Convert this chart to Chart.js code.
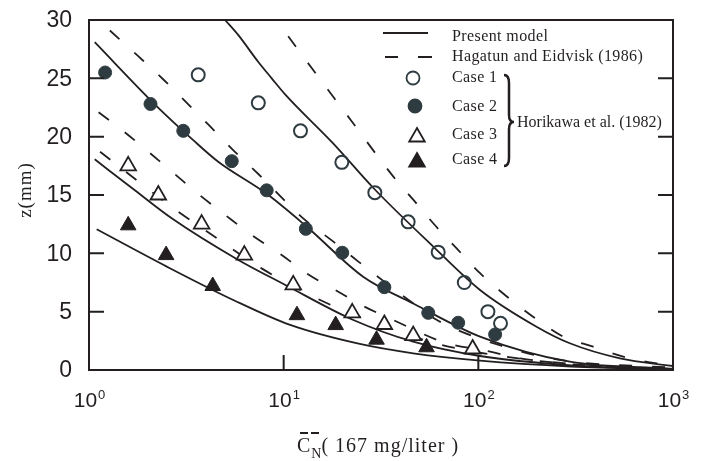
<!DOCTYPE html>
<html>
<head>
<meta charset="utf-8">
<script src="https://cdn.jsdelivr.net/npm/chart.js@4.4.1/dist/chart.umd.min.js"></script>
<style>
  body { margin: 0; background: #fff; }
  canvas { display: block; }
</style>
</head>
<body>
<canvas id="chart" width="707" height="461"></canvas>
<script>
// axis ticks
const xTicks = [1, 10, 100, 1000];
const yTicks = [0, 5, 10, 15, 20, 25, 30];

// Horikawa et al. (1982) measurements
const case1X = [3.64, 7.41, 12.2, 19.9, 29.4, 43.6, 62.2, 84.7, 112, 130];
const case1Z = [25.3, 22.9, 20.5, 17.8, 15.2, 12.7, 10.1, 7.5, 5.0, 4.0];
const case2X = [1.21, 2.07, 3.05, 5.41, 8.18, 13.0, 20.0, 32.9, 55.3, 78.8, 122];
const case2Z = [25.5, 22.8, 20.5, 17.9, 15.4, 12.1, 10.05, 7.1, 4.9, 4.05, 3.05];
const case3X = [1.59, 2.27, 3.79, 6.28, 11.2, 22.5, 32.9, 46.3, 93.5];
const case3Z = [17.5, 15.0, 12.5, 9.85, 7.3, 4.9, 3.9, 2.95, 1.8];
const case4X = [1.59, 2.49, 4.32, 11.7, 18.5, 30.0, 54.2];
const case4Z = [12.4, 9.85, 7.2, 4.7, 3.85, 2.6, 1.95];

// present model
const model1X = [5.0, 5.85, 7.41, 8.68, 10.2, 18.0, 28.9, 58.5, 102, 199, 295, 534, 1000];
const model1Z = [30, 28.7, 26.4, 25.0, 23.6, 19.4, 15.6, 10.6, 6.86, 3.71, 2.29, 1.0, 0.34];
const model2X = [1.07, 2.23, 3.43, 4.61, 8.18, 13.1, 25.6, 46.3, 102, 295, 1000];
const model2Z = [28.1, 22.6, 19.7, 17.85, 15.1, 12.3, 8.0, 5.7, 2.86, 0.71, 0.1];
const model3X = [1.07, 1.72, 2.66, 5.85, 10.2, 22.8, 46.3, 102, 300, 1000];
const model3Z = [18.06, 15.4, 13.0, 9.43, 7.29, 4.29, 2.43, 1.2, 0.4, 0.05];
const model4X = [1.095, 2.51, 5.51, 10.8, 24.6, 46.3, 102, 300, 1000];
const model4Z = [12.06, 8.86, 6.0, 3.86, 2.23, 1.43, 0.8, 0.3, 0.05];

// Hagatun and Eidvisk (1986)
const hag1X = [10.55, 13.9, 22.4, 36.5, 46.3, 58.5, 77.6, 102, 140, 191, 273, 389, 555, 827, 1000];
const hag1Z = [28.6, 25.9, 21.3, 16.6, 14.6, 12.6, 10.4, 8.3, 6.3, 4.57, 2.86, 2.0, 1.14, 0.57, 0.4];
const hag2X = [1.28, 1.79, 2.41, 3.18, 4.18, 5.62, 7.41, 12.6, 18.0, 24.2, 44.7, 61, 130, 262, 1000];
const hag2Z = [29.1, 26.9, 24.9, 22.9, 20.9, 18.7, 16.8, 13.0, 11.0, 9.29, 5.9, 4.3, 2.1, 0.86, 0.2];
const hag3X = [1.12, 1.47, 2.02, 2.71, 3.7, 5.0, 6.85, 9.77, 13.1, 18.4, 26.0, 36.5, 66, 115, 164, 400, 1000];
const hag3Z = [22.1, 20.6, 18.7, 16.9, 15.0, 13.3, 11.57, 9.86, 8.29, 6.86, 5.43, 4.29, 2.4, 1.57, 1.0, 0.4, 0.15];
const hag4X = [1.14, 2.87, 3.94, 7.7, 15.4, 30, 60, 100, 300, 1000];
const hag4Z = [18.7, 13.57, 12.0, 8.71, 6.0, 4.0, 2.3, 1.5, 0.5, 0.1];

const INK = '#231f20';
const DOT = '#2e3b40';
const SERIF = '"Liberation Serif", "Times New Roman", serif';
const SANS = '"Liberation Sans", Arial, sans-serif';

const pts = (xs, zs) => xs.map((v, i) => ({ x: v, y: zs[i] }));

function curve(xs, zs, dashed) {
  return {
    data: pts(xs, zs), showLine: true, pointRadius: 0,
    borderColor: INK, borderWidth: 1.8, borderDash: dashed ? [13, 20] : [],
    cubicInterpolationMode: 'monotone', order: 2
  };
}

// marker styles shared by plot and legend
const marks = {
  c1: { pointStyle: 'circle', radius: 6.5, fill: 'rgba(0,0,0,0)', stroke: DOT, bw: 2 },
  c2: { pointStyle: 'circle', radius: 6.5, fill: DOT, stroke: DOT, bw: 1 },
  c3: { pointStyle: 'triangle', radius: 9, fill: '#fff', stroke: INK, bw: 1.8 },
  c4: { pointStyle: 'triangle', radius: 9, fill: INK, stroke: INK, bw: 1 }
};

function scatter(xs, zs, m) {
  return {
    data: pts(xs, zs), showLine: false, order: 1,
    pointStyle: m.pointStyle, pointRadius: m.radius,
    pointBackgroundColor: m.fill, pointBorderColor: m.stroke, pointBorderWidth: m.bw
  };
}

const frame = {
  id: 'frame',
  afterDraw(chart) {
    const { ctx, chartArea: a, scales: { x, y } } = chart;
    ctx.save();
    ctx.strokeStyle = INK;
    ctx.lineWidth = 2;
    ctx.strokeRect(a.left, a.top, a.right - a.left, a.bottom - a.top);

    // inward tick marks
    ctx.beginPath();
    yTicks.slice(1, -1).forEach(v => {
      const py = y.getPixelForValue(v);
      ctx.moveTo(a.left, py); ctx.lineTo(a.left + 15, py);
      ctx.moveTo(a.right, py); ctx.lineTo(a.right - 15, py);
    });
    xTicks.slice(1, -1).forEach(v => {
      const px = x.getPixelForValue(v);
      ctx.moveTo(px, a.bottom); ctx.lineTo(px, a.bottom - 15);
    });
    ctx.stroke();

    // tick labels
    ctx.fillStyle = INK;
    ctx.font = '23px ' + SANS;
    ctx.textAlign = 'right';
    ctx.textBaseline = 'middle';
    yTicks.forEach(v => ctx.fillText(String(v), a.left - 17, y.getPixelForValue(v) + 1));

    ctx.textAlign = 'left';
    ctx.textBaseline = 'alphabetic';
    xTicks.forEach(v => {
      const px = x.getPixelForValue(v);
      const e = String(Math.round(Math.log10(v)));
      ctx.font = '21px ' + SANS;
      const wb = ctx.measureText('10').width;
      ctx.font = '13px ' + SANS;
      const we = ctx.measureText(e).width;
      const x0 = px - (wb + we) / 2;
      ctx.font = '21px ' + SANS;
      ctx.fillText('10', x0, 407);
      ctx.font = '13px ' + SANS;
      ctx.fillText(e, x0 + wb + 1, 399);
    });

    // axis titles
    ctx.font = '20px ' + SERIF;
    ctx.letterSpacing = '1px';
    ctx.fillText('C', 297, 452);
    const wc = ctx.measureText('C').width;
    ctx.font = '14px ' + SERIF;
    ctx.letterSpacing = '0px';
    ctx.fillText('N', 297 + wc, 458);
    const wn = ctx.measureText('N').width;
    ctx.font = '20px ' + SERIF;
    ctx.letterSpacing = '1px';
    ctx.fillText('( 167 mg/liter )', 297 + wc + wn, 452);
    ctx.lineWidth = 2;
    ctx.beginPath();
    ctx.moveTo(300, 433); ctx.lineTo(308, 433);
    ctx.moveTo(311, 433); ctx.lineTo(319, 433);
    ctx.stroke();

    ctx.save();
    ctx.translate(31, 190);
    ctx.rotate(-Math.PI / 2);
    ctx.textAlign = 'center';
    ctx.font = '19px ' + SERIF;
    ctx.fillText('z(mm)', 0, 0);
    ctx.restore();

    // legend
    ctx.letterSpacing = '0.4px';
    ctx.font = '16px ' + SERIF;
    ctx.textAlign = 'left';
    ctx.beginPath();
    ctx.lineWidth = 1.8;
    ctx.moveTo(383, 33); ctx.lineTo(428, 33);
    ctx.moveTo(385, 57); ctx.lineTo(398, 57);
    ctx.moveTo(418, 57); ctx.lineTo(432, 57);
    ctx.stroke();
    ctx.fillText('Present model', 452, 41);
    ctx.fillText('Hagatun and Eidvisk (1986)', 452, 61);

    const rows = [['c1', 413, 78, 'Case 1', 82], ['c2', 415, 106, 'Case 2', 111],
                  ['c3', 417, 137, 'Case 3', 139], ['c4', 417, 162, 'Case 4', 164]];
    rows.forEach(([k, mx, my, label, by]) => {
      const m = marks[k];
      ctx.fillStyle = m.fill;
      ctx.strokeStyle = m.stroke;
      Chart.helpers.drawPoint(ctx, { pointStyle: m.pointStyle, radius: m.radius, rotation: 0, borderWidth: m.bw }, mx, my);
      ctx.fillStyle = INK;
      ctx.fillText(label, 452, by);
    });

    // brace grouping the four cases
    ctx.strokeStyle = INK;
    ctx.lineWidth = 2.5;
    const xl = 504, xm = 509, xr = 514, top = 75, bot = 166, mid = 122;
    ctx.beginPath();
    ctx.moveTo(xl, top);
    ctx.quadraticCurveTo(xm, top, xm, top + 8);
    ctx.lineTo(xm, mid - 7);
    ctx.quadraticCurveTo(xm, mid, xr, mid);
    ctx.quadraticCurveTo(xm, mid, xm, mid + 7);
    ctx.lineTo(xm, bot - 8);
    ctx.quadraticCurveTo(xm, bot, xl, bot);
    ctx.stroke();
    ctx.fillStyle = INK;
    ctx.letterSpacing = '0px';
    ctx.fillText('Horikawa et al. (1982)', 517, 127);
    ctx.restore();
  }
};

new Chart(document.getElementById('chart'), {
  type: 'scatter',
  data: {
    datasets: [
      scatter(case1X, case1Z, marks.c1),
      scatter(case2X, case2Z, marks.c2),
      scatter(case3X, case3Z, marks.c3),
      scatter(case4X, case4Z, marks.c4),
      curve(model1X, model1Z, false),
      curve(model2X, model2Z, false),
      curve(model3X, model3Z, false),
      curve(model4X, model4Z, false),
      curve(hag1X, hag1Z, true),
      curve(hag2X, hag2Z, true),
      curve(hag3X, hag3Z, true),
      curve(hag4X, hag4Z, true)
    ]
  },
  options: {
    responsive: false,
    animation: false,
    layout: { padding: { left: 89, right: 34, top: 20, bottom: 91 } },
    plugins: { legend: { display: false }, tooltip: { enabled: false } },
    scales: {
      x: { type: 'logarithmic', min: 1, max: 1000, display: false },
      y: { type: 'linear', min: 0, max: 30, display: false }
    }
  },
  plugins: [frame]
});
</script>
</body>
</html>
